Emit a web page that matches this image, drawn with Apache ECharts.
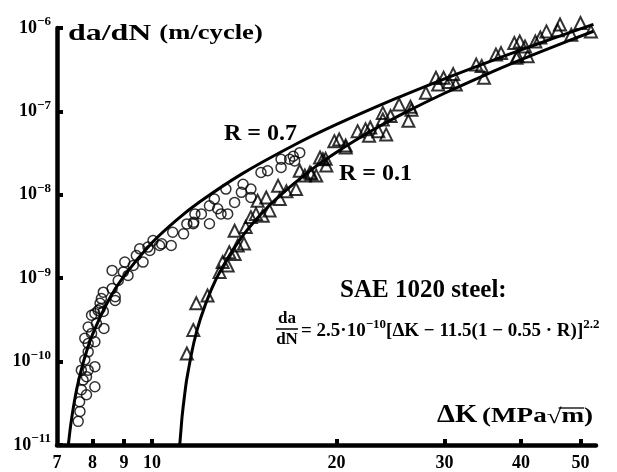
<!DOCTYPE html>
<html>
<head>
<meta charset="utf-8">
<script src="https://cdn.jsdelivr.net/npm/echarts@6/dist/echarts.min.js"></script>
<style>
html,body{margin:0;padding:0;background:#fff;}
#chart{width:617px;height:472px;}
</style>
</head>
<body>
<div id="chart"></div>
<script>
// ---- data ----
const xTickValues = [8, 9, 10, 20, 30, 40, 50];
const xLabelValues = [7, 8, 9, 10, 20, 30, 40, 50];
const yLabelValues = [1e-11, 1e-10, 1e-9, 1e-8, 1e-7, 1e-6];

// fitted curve R = 0.7
const curve07K = [7.304, 7.35, 7.4, 7.5, 7.6, 7.8, 8.0, 8.5, 9, 10, 11, 12, 14, 17, 20, 25, 30, 35, 40, 45, 52.5];
const curve07Rate = [1.0e-11, 1.49e-11, 2.14e-11, 3.86e-11, 6.12e-11, 1.24e-10, 2.12e-10, 5.47e-10, 1.06e-9, 2.66e-9, 5.07e-9, 8.35e-9, 1.77e-8, 3.90e-8, 6.97e-8, 1.43e-7, 2.46e-7, 3.80e-7, 5.46e-7, 7.45e-7, 1.107e-6];
// fitted curve R = 0.1
const curve01K = [11.1, 11.15, 11.2, 11.3, 11.4, 11.7, 12, 12.5, 13, 14, 15, 16, 18, 20, 23, 26, 30, 35, 40, 45, 52.5];
const curve01Rate = [1.01e-11, 1.5e-11, 2.22e-11, 3.9e-11, 6.25e-11, 1.67e-10, 3.29e-10, 7.35e-10, 1.32e-9, 3.08e-9, 5.67e-9, 9.13e-9, 1.88e-8, 3.24e-8, 6.06e-8, 9.86e-8, 1.65e-7, 2.75e-7, 4.17e-7, 5.9e-7, 9.14e-7];

// measured points R = 0.7 (circles)
const circleK = [7.58, 7.63, 7.62, 7.67, 7.82, 8.07, 7.72, 7.82, 8.07, 7.67, 7.87, 7.77, 7.87, 7.87, 7.77, 8.07, 7.97, 8.12, 7.87, 8.35, 8.07, 7.97, 8.23, 8.33, 8.23, 8.71, 8.17, 8.27, 8.33, 8.71, 8.61, 8.81, 8.61, 8.98, 9.03, 9.32, 9.14, 9.43, 9.67, 9.55, 9.85, 10.04, 9.92, 10.29, 10.37, 10.75, 10.81, 11.26, 11.4, 11.75, 11.7, 11.68, 12.04, 12.41, 12.41, 12.64, 12.8, 12.96, 13.29, 13.2, 13.64, 13.99, 14.08, 14.5, 14.5, 15.06, 15.44, 16.24, 16.24, 16.77, 17.09, 17.42, 17.0];
const circleRate = [1.92e-11, 2.53e-11, 3.3e-11, 4.6e-11, 4.0e-11, 5.0e-11, 6.0e-11, 6.6e-11, 8.7e-11, 7.9e-11, 7.9e-11, 1.05e-10, 1.31e-10, 1.65e-10, 1.9e-10, 1.73e-10, 2.17e-10, 2.86e-10, 2.6e-10, 2.5e-10, 3.77e-10, 3.6e-10, 4.3e-10, 4.0e-10, 5.0e-10, 5.4e-10, 4.1e-10, 5.7e-10, 6.8e-10, 6.0e-10, 7.5e-10, 9.4e-10, 1.24e-9, 1.19e-9, 1.56e-9, 1.42e-9, 1.08e-9, 1.87e-9, 1.56e-9, 2.25e-9, 2.36e-9, 2.83e-9, 2.15e-9, 2.47e-9, 2.58e-9, 2.47e-9, 3.56e-9, 3.4e-9, 4.48e-9, 5.9e-9, 4.7e-9, 4.5e-9, 5.9e-9, 4.5e-9, 7.4e-9, 8.9e-9, 6.8e-9, 5.9e-9, 5.9e-9, 1.17e-8, 8.1e-9, 1.07e-8, 1.34e-8, 9.3e-9, 1.17e-8, 1.85e-8, 1.94e-8, 2.13e-8, 2.67e-8, 2.67e-8, 2.55e-8, 3.2e-8, 2.9e-8];

// measured points R = 0.1 (triangles)
const triK = [11.4, 11.68, 11.81, 12.32, 12.89, 13.04, 13.29, 13.37, 13.64, 13.8, 14.13, 13.64, 14.22, 14.5, 14.78, 15.16, 15.55, 14.87, 15.36, 16.16, 16.06, 16.57, 17.18, 17.42, 17.76, 18.2, 18.53, 19.0, 19.25, 19.84, 20.2, 20.7, 21.65, 22.3, 22.6, 23.4, 24.1, 23.8, 24.5, 25.3, 26.2, 26.4, 18.1, 18.8, 19.2, 20.7, 22.7, 23.8, 26.5, 27.98, 29.05, 29.3, 29.9, 30.5, 31.0, 31.3, 33.8, 34.5, 34.8, 36.4, 37.1, 39.0, 39.8, 40.6, 39.5, 42.2, 43.0, 44.0, 45.9, 46.3, 50.0, 52.0, 48.3, 41.0, 39.3];
const triRate = [1.25e-10, 2.4e-10, 5e-10, 6.2e-10, 1.19e-9, 1.56e-9, 1.42e-9, 2.05e-9, 1.95e-9, 2.47e-9, 2.6e-9, 3.7e-9, 4.1e-9, 5.4e-9, 5.9e-9, 5.6e-9, 6.5e-9, 8.5e-9, 9.3e-9, 8.9e-9, 1.28e-8, 1.1e-8, 1.17e-8, 1.94e-8, 1.7e-8, 1.79e-8, 1.7e-8, 2.67e-8, 2.24e-8, 4.4e-8, 4.6e-8, 3.7e-8, 5.8e-8, 6.1e-8, 5.1e-8, 5.8e-8, 5.3e-8, 8e-8, 8.8e-8, 1.21e-7, 7.7e-8, 1.14e-7, 1.85e-8, 2.8e-8, 2.7e-8, 3.9e-8, 6.4e-8, 9.6e-8, 1.05e-7, 1.67e-7, 2.53e-7, 2.1e-7, 2.53e-7, 2.25e-7, 2.8e-7, 2.1e-7, 3.64e-7, 3.5e-7, 2.53e-7, 4.8e-7, 5.0e-7, 6.6e-7, 6.9e-7, 6.0e-7, 4.6e-7, 6.9e-7, 7.7e-7, 9.1e-7, 9.4e-7, 1.1e-6, 1.15e-6, 9.1e-7, 8.3e-7, 4.6e-7, 4.4e-7];

const xMin = 7, xMax = 53, yMin = 1e-11, yMax = 1e-6;

// ---- chart ----
const zip = (a, b) => a.map((v, i) => [v, b[i]]);
const serif = '"Liberation Serif", "DejaVu Serif", serif';
const mctx = document.createElement('canvas').getContext('2d');
const tw = (font, s) => { mctx.font = font; return mctx.measureText(s).width; };

const fB21 = 'bold 21px ' + serif;
const fN21 = '21px ' + serif;
const wParen = tw(fB21, '(MPa');
const wRoot = tw(fN21, '\u221a');
const wM = tw(fB21, 'm');

const chart = echarts.init(document.getElementById('chart'), null, {renderer: 'canvas'});

const option = {
  animation: false,
  backgroundColor: '#fff',
  grid: {left: 57, right: 21, top: 28, bottom: 25, containLabel: false},
  xAxis: {
    type: 'log', logBase: 10, min: xMin, max: xMax,
    axisLine: {show: true, lineStyle: {color: '#000', width: 4.5}},
    axisTick: {show: true, inside: true, length: 6, customValues: xTickValues, lineStyle: {color: '#000', width: 4}},
    axisLabel: {
      show: true, customValues: xLabelValues, margin: 9,
      color: '#000', fontFamily: serif, fontWeight: 'bold', fontSize: 18,
      formatter: v => String(Math.round(v))
    },
    splitLine: {show: false}, minorTick: {show: false}
  },
  yAxis: {
    type: 'log', logBase: 10, min: yMin, max: yMax,
    axisLine: {show: true, lineStyle: {color: '#000', width: 4.5}},
    axisTick: {show: true, inside: true, length: 6, customValues: yLabelValues, lineStyle: {color: '#000', width: 4}},
    axisLabel: {
      show: true, customValues: yLabelValues, margin: 6,
      color: '#000', fontFamily: serif,
      formatter: v => '{b|10}{s|\u2212' + Math.abs(Math.round(Math.log10(v))) + '}',
      rich: {
        b: {fontFamily: serif, fontWeight: 'bold', fontSize: 18, color: '#000'},
        s: {fontFamily: serif, fontWeight: 'bold', fontSize: 13, color: '#000', padding: [0, 0, 12, 0]}
      }
    },
    splitLine: {show: false}, minorTick: {show: false}
  },
  series: [
    {
      type: 'line', data: zip(curve07K, curve07Rate), showSymbol: false, smooth: 0.3, clip: false,
      lineStyle: {color: '#000', width: 3}, z: 3
    },
    {
      type: 'line', data: zip(curve01K, curve01Rate), showSymbol: false, smooth: 0.3, clip: false,
      lineStyle: {color: '#000', width: 3}, z: 3
    },
    {
      type: 'scatter', data: zip(circleK, circleRate), symbol: 'circle', symbolSize: 10, clip: false,
      itemStyle: {color: 'rgba(0,0,0,0)', borderColor: '#000', borderWidth: 1.5}, z: 4
    },
    {
      type: 'scatter', data: zip(triK, triRate), symbol: 'triangle', symbolSize: 12, clip: false,
      itemStyle: {color: 'rgba(0,0,0,0)', borderColor: '#000', borderWidth: 2}, z: 4
    }
  ],
  graphic: [
    { type: 'text', x: 68, y: 34, scaleX: 1.33, style: {
        text: '{a|da/dN }{b|(m/cycle)}', verticalAlign: 'middle',
        rich: {
          a: {fontFamily: serif, fontWeight: 'bold', fontSize: 24, fill: '#000'},
          b: {fontFamily: serif, fontWeight: 'bold', fontSize: 20, fill: '#000'}
        }
    }},
    { type: 'text', x: 224, y: 134, style: {text: 'R = 0.7', font: 'bold 24px ' + serif, fill: '#000', verticalAlign: 'middle'}},
    { type: 'text', x: 339, y: 174, style: {text: 'R = 0.1', font: 'bold 24px ' + serif, fill: '#000', verticalAlign: 'middle'}},
    { type: 'text', x: 340, y: 291, style: {text: 'SAE 1020 steel:', font: 'bold 25px ' + serif, fill: '#000', verticalAlign: 'middle'}},
    // fraction da/dN
    { type: 'text', x: 287, y: 319, style: {text: 'da', font: 'bold 17px ' + serif, fill: '#000', align: 'center', verticalAlign: 'middle'}},
    { type: 'line', shape: {x1: 276, y1: 329, x2: 298, y2: 329}, style: {stroke: '#000', lineWidth: 1.5}},
    { type: 'text', x: 287, y: 340, style: {text: 'dN', font: 'bold 17px ' + serif, fill: '#000', align: 'center', verticalAlign: 'middle'}},
    { type: 'text', x: 301, y: 331, style: {
        text: '{n|= 2.5\u00b710}{s|\u221210}{n|[\u0394K \u2212 11.5(1 \u2212 0.55 \u00b7 R)]}{s|2.2}',
        verticalAlign: 'middle',
        rich: {
          n: {fontFamily: serif, fontWeight: 'bold', fontSize: 19, fill: '#000'},
          s: {fontFamily: serif, fontWeight: 'bold', fontSize: 13, fill: '#000', padding: [0, 0, 12, 0]}
        }
    }},
    // x axis name
    { type: 'text', x: 437, y: 415, scaleX: 1.1, style: {text: '\u0394K', font: 'bold 26px ' + serif, fill: '#000', verticalAlign: 'middle'}},
    { type: 'group', x: 482, y: 417, scaleX: 1.29, children: [
      { type: 'text', x: 0, y: 0, style: {text: '(MPa', font: fB21, fill: '#000', verticalAlign: 'middle'}},
      { type: 'text', x: wParen, y: 0, style: {text: '\u221a', font: fN21, fill: '#000', verticalAlign: 'middle'}},
      { type: 'text', x: wParen + wRoot, y: 0, style: {text: 'm)', font: fB21, fill: '#000', verticalAlign: 'middle'}},
      { type: 'line', shape: {x1: wParen + wRoot * 0.8, y1: -9, x2: wParen + wRoot + wM, y2: -9}, style: {stroke: '#000', lineWidth: 1.3}}
    ]}
  ]
};
chart.setOption(option);
</script>
</body>
</html>
